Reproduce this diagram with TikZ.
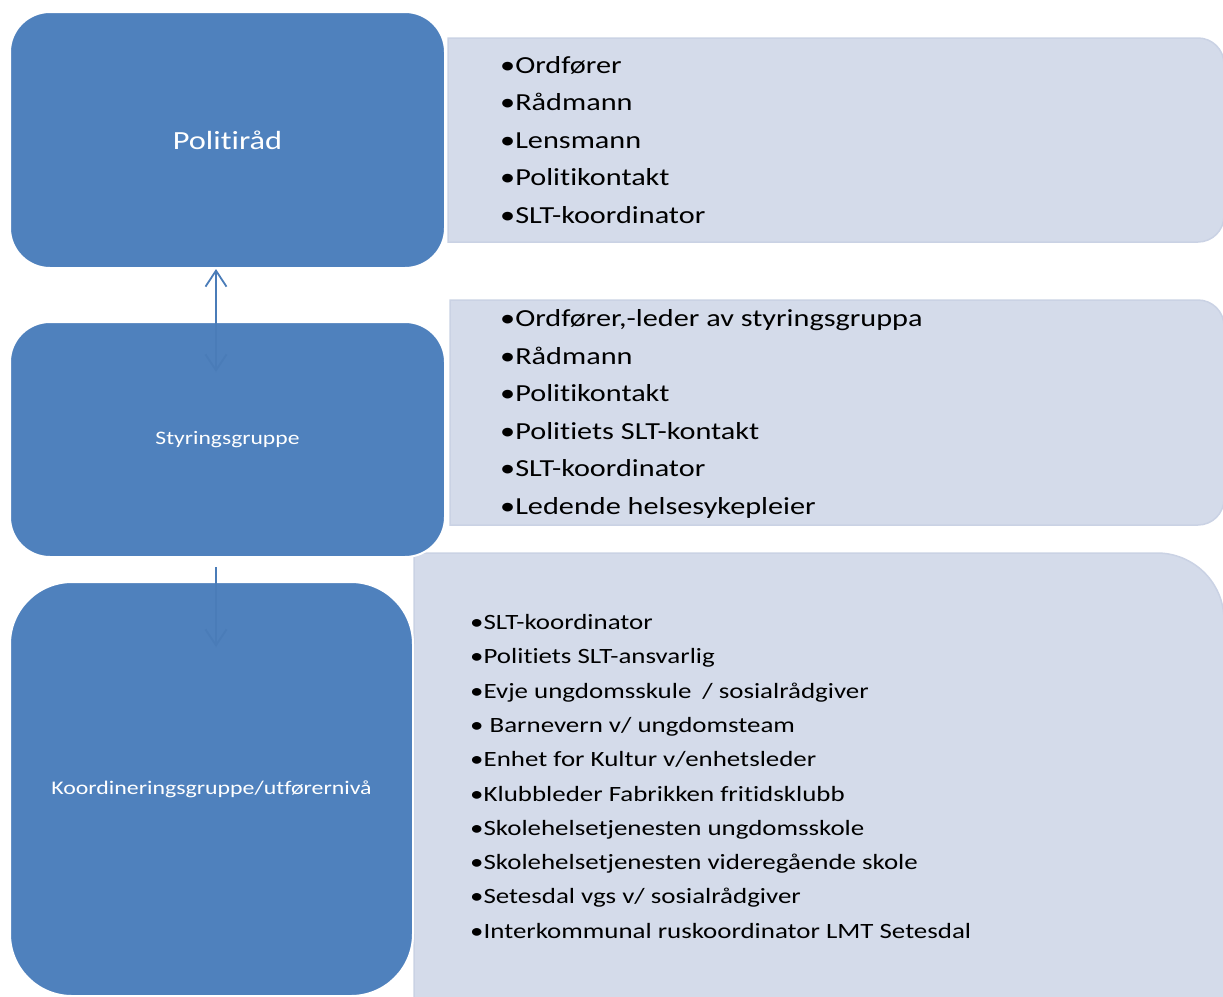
\documentclass[tikz,border=0pt]{standalone}
\usepackage{fontspec}
\setmainfont{Carlito}[FakeStretch=1.235, Ligatures=NoCommon]
\usetikzlibrary{arrows.meta}
\definecolor{boxblue}{RGB}{79,129,189}
\definecolor{panelfill}{RGB}{212,219,234}
\definecolor{paneledge}{RGB}{202,210,228}
\definecolor{arrowblue}{RGB}{74,124,184}
\tikzset{
  bluebox/.style={fill=boxblue, draw=white, line width=2pt, text=white, inner sep=0pt},
  panel/.style={fill=panelfill, draw=paneledge, line width=1.5pt},
  itemA/.style={anchor=base west, inner sep=0pt, font=\fontsize{24.5}{30}\selectfont},
  itemB/.style={anchor=base west, inner sep=0pt, font=\fontsize{21.8}{27}\selectfont},
  conn/.style={draw=arrowblue, line width=1.8pt},
  barb/.tip={Straight Barb[length=16pt,width=21pt,line width=1.8pt]}
}
\begin{document}
\begin{tikzpicture}[x=1pt,y=-1pt]
\useasboundingbox (0,0) rectangle (1223,996);
\clip (0,0) rectangle (1223,996);
% panels
\path[panel] (448,38) -- (1198,38) arc[start angle=90,end angle=0,radius=26pt]
  -- (1224,216) arc[start angle=0,end angle=-90,radius=26pt] -- (448,242) -- cycle;
\path[panel] (450,300) -- (1198,300) arc[start angle=90,end angle=0,radius=26pt]
  -- (1224,499) arc[start angle=0,end angle=-90,radius=26pt] -- (450,525) -- cycle;
\path[panel] (414,553) -- (1157,553) arc[start angle=90,end angle=0,radius=67pt]
  -- (1224,1010) -- (414,1010) -- cycle;
% blue boxes
\node[bluebox, minimum width=435pt, minimum height=256pt, rounded corners=40pt,
  font=\fontsize{26.2}{30}\selectfont] (polit) at (227.5,140) {Politiråd};
\node[bluebox, minimum width=435pt, minimum height=235pt, rounded corners=40pt,
  font=\fontsize{19.1}{24}\selectfont] (styr) at (227.5,439.5) {Styringsgruppe};
\node[bluebox, minimum width=403pt, minimum height=414pt, rounded corners=62pt,
  font=\fontsize{19.3}{24}\selectfont] (koord) at (211.5,789) {Koordineringsgruppe/utførernivå};
% panel texts
\foreach \t [count=\i] in {Ordfører, Rådmann, Lensmann, Politikontakt, SLT-koordinator}
  \node[itemA] (pa\i) at (500,{73.3+37.5*(\i-1)}) {•\t};
\foreach \t [count=\i] in {{Ordfører,-leder av styringsgruppa}, Rådmann, Politikontakt,
    Politiets SLT-kontakt, SLT-koordinator, Ledende helsesykepleier}
  \node[itemA] (pb\i) at (500,{326.5+37.6*(\i-1)}) {•\t};
\foreach \t [count=\i] in {SLT-koordinator, Politiets SLT-ansvarlig,
    {Evje ungdomsskule\hspace{0.5em}/ sosialrådgiver}, {\ Barnevern v/ ungdomsteam},
    Enhet for Kultur v/enhetsleder, Klubbleder Fabrikken fritidsklubb,
    Skolehelsetjenesten ungdomsskole, Skolehelsetjenesten videregående skole,
    Setesdal vgs v/ sosialrådgiver, Interkommunal ruskoordinator LMT Setesdal}
  \node[itemB] (pc\i) at (470,{629.5+34.3*(\i-1)}) {•\t};
% connectors
\coordinate (a1end) at (216,372);
\coordinate (a2s) at (216,567);
\coordinate (a2e) at (216,647);
\draw[conn, {barb}-{barb}] (polit.south -| a1end) -- (a1end);
\draw[conn, -{barb}] (a2s) -- (a2e);
\end{tikzpicture}
\end{document}
